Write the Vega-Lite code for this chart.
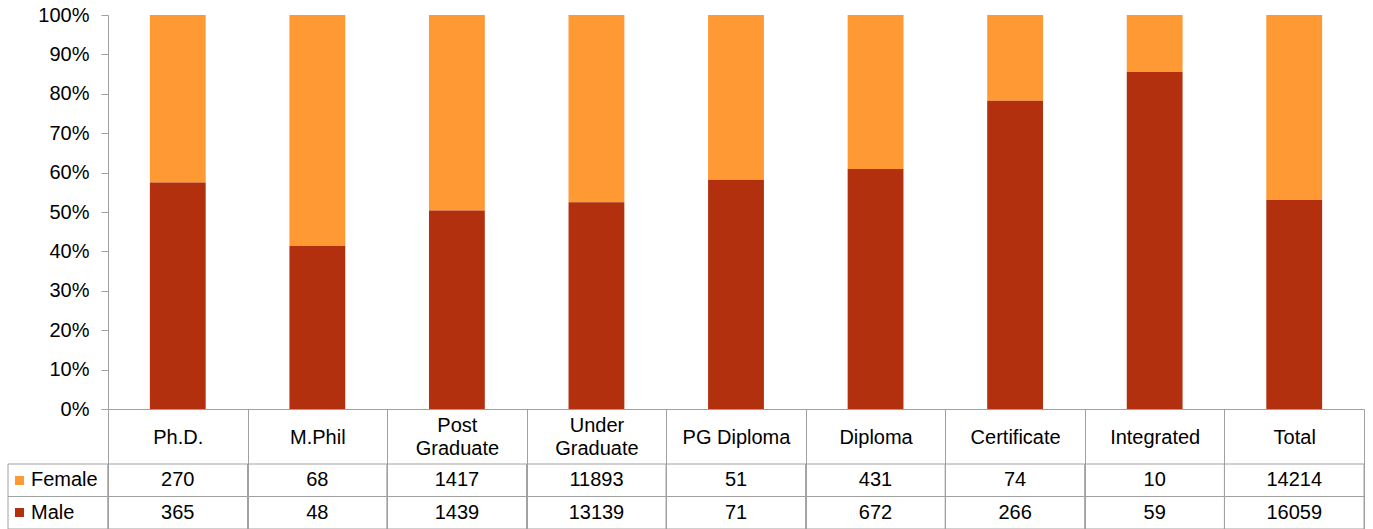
{
  "$schema": "https://vega.github.io/schema/vega-lite/v6.json",
  "padding": {"left": 7, "top": 5, "right": 0, "bottom": 0},
  "background": "white",
  "datasets": {
    "counts": [
      {"category": "Ph.D.", "sex": "Female", "count": 270},
      {"category": "Ph.D.", "sex": "Male", "count": 365},
      {"category": "M.Phil", "sex": "Female", "count": 68},
      {"category": "M.Phil", "sex": "Male", "count": 48},
      {"category": "Post Graduate", "sex": "Female", "count": 1417},
      {"category": "Post Graduate", "sex": "Male", "count": 1439},
      {"category": "Under Graduate", "sex": "Female", "count": 11893},
      {"category": "Under Graduate", "sex": "Male", "count": 13139},
      {"category": "PG Diploma", "sex": "Female", "count": 51},
      {"category": "PG Diploma", "sex": "Male", "count": 71},
      {"category": "Diploma", "sex": "Female", "count": 431},
      {"category": "Diploma", "sex": "Male", "count": 672},
      {"category": "Certificate", "sex": "Female", "count": 74},
      {"category": "Certificate", "sex": "Male", "count": 266},
      {"category": "Integrated", "sex": "Female", "count": 10},
      {"category": "Integrated", "sex": "Male", "count": 59},
      {"category": "Total", "sex": "Female", "count": 14214},
      {"category": "Total", "sex": "Male", "count": 16059}
    ],
    "series": [{"sex": "Female"}, {"sex": "Male"}]
  },
  "columns": 2,
  "align": "each",
  "bounds": "flush",
  "spacing": {"row": 55, "column": 0},
  "concat": [
    {
      "data": {"values": []},
      "width": 100,
      "height": 394,
      "mark": "text"
    },
    {
      "data": {"name": "counts"},
      "width": 1256,
      "height": 394,
      "mark": {"type": "bar", "width": {"band": 0.4}},
      "encoding": {
        "x": {
          "field": "category",
          "type": "nominal",
          "sort": null,
          "scale": {"paddingInner": 0, "paddingOuter": 0},
          "axis": {
            "title": null,
            "domainColor": "#a0a0a0",
            "tickColor": "#a0a0a0",
            "tickBand": "extent",
            "tickSize": 120,
            "labelPadding": {"condition": {"test": "datum.value === 'Post Graduate' || datum.value === 'Under Graduate'", "value": -103.5}, "value": -92},
            "labelBaseline": "middle",
            "labelAngle": 0,
            "labelFontSize": 20,
            "labelColor": "#000000",
            "labelLineHeight": 23,
            "labelOverlap": false,
            "labelExpr": "datum.label === 'Post Graduate' ? ['Post', 'Graduate'] : datum.label === 'Under Graduate' ? ['Under', 'Graduate'] : datum.label"
          }
        },
        "y": {
          "field": "count",
          "type": "quantitative",
          "stack": "normalize",
          "axis": {
            "title": null,
            "format": ".0%",
            "values": [0, 0.1, 0.2, 0.3, 0.4, 0.5, 0.6, 0.7, 0.8, 0.9, 1],
            "grid": false,
            "domainColor": "#a0a0a0",
            "tickColor": "#a0a0a0",
            "tickSize": 7,
            "labelPadding": 12,
            "labelFontSize": 20,
            "labelColor": "#000000"
          }
        },
        "color": {
          "field": "sex",
          "type": "nominal",
          "scale": {"domain": ["Female", "Male"], "range": ["#FF9933", "#B3300F"]},
          "legend": null
        },
        "order": {"field": "sex", "sort": "descending"}
      }
    },
    {
      "data": {"name": "series"},
      "width": 100,
      "height": 65,
      "mark": {"type": "rect", "fillOpacity": 0, "stroke": "#a0a0a0", "strokeWidth": 1},
      "encoding": {
        "y": {
          "field": "sex",
          "type": "nominal",
          "sort": ["Female", "Male"],
          "scale": {"paddingInner": 0, "paddingOuter": 0},
          "axis": {
            "title": null,
            "orient": "left",
            "offset": -15.5,
            "domain": false,
            "tickSize": 9,
            "tickWidth": 9,
            "tickColor": {"condition": {"test": "datum.value === 'Female'", "value": "#FF9933"}, "value": "#B3300F"},
            "labelPadding": -16,
            "labelAlign": "left",
            "labelBaseline": "middle",
            "labelFontSize": 20,
            "labelColor": "#000000",
            "zindex": 1
          }
        }
      }
    },
    {
      "data": {"name": "counts"},
      "width": 1256,
      "height": 65,
      "encoding": {
        "x": {
          "field": "category",
          "type": "nominal",
          "sort": null,
          "scale": {"paddingInner": 0, "paddingOuter": 0},
          "axis": null
        },
        "y": {
          "field": "sex",
          "type": "nominal",
          "sort": ["Female", "Male"],
          "scale": {"paddingInner": 0, "paddingOuter": 0},
          "axis": null
        }
      },
      "layer": [
        {"mark": {"type": "rect", "fillOpacity": 0, "stroke": "#a0a0a0", "strokeWidth": 1}},
        {
          "mark": {"type": "text", "fontSize": 20, "color": "#000000", "baseline": "middle", "align": "center"},
          "encoding": {"text": {"field": "count", "type": "quantitative", "format": "d"}}
        }
      ]
    }
  ],
  "config": {
    "view": {"stroke": null},
    "font": "Liberation Sans"
  }
}
